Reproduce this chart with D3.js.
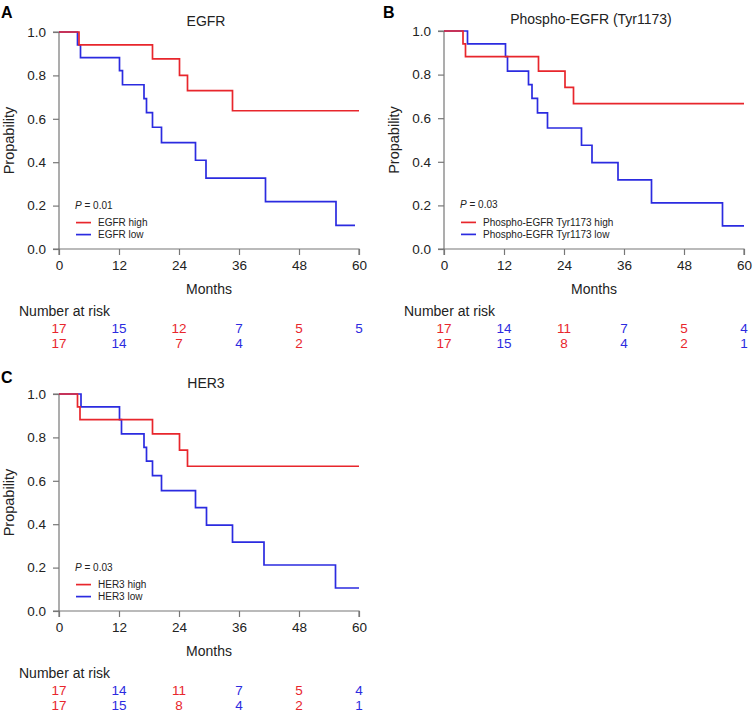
<!DOCTYPE html>
<html><head><meta charset="utf-8">
<script src="https://cdn.jsdelivr.net/npm/d3@7"></script>
<style>
body{margin:0;background:#fff;}
svg text{font-family:"Liberation Sans",Arial,Helvetica,sans-serif;}
</style></head>
<body><svg id="chart" width="753" height="715"></svg>
<script>
// ---- data ----
const xTicks = [0, 12, 24, 36, 48, 60];
const yTicks = [0, 0.2, 0.4, 0.6, 0.8, 1.0];

// Panel A: EGFR
const egfrHighTimes = [0, 4.0, 18.7, 24.1, 25.7, 34.7, 60];
const egfrHighSurv  = [1.0, 0.941, 0.876, 0.80, 0.73, 0.637, 0.637];
const egfrLowTimes  = [0, 3.7, 4.3, 12.1, 12.7, 17.0, 17.5, 18.7, 20.5, 27.3, 29.4, 41.3, 55.4, 59.2];
const egfrLowSurv   = [1.0, 0.941, 0.882, 0.822, 0.757, 0.693, 0.628, 0.561, 0.49, 0.409, 0.327, 0.218, 0.109, 0.109];
const egfrRiskHigh  = ["17", "15", "12", "7", "5", "5"];
const egfrRiskLow   = ["17", "14", "7", "4", "2", ""];

// Panel B: Phospho-EGFR (Tyr1173)
const pegfrHighTimes = [0, 3.8, 4.3, 18.9, 24.2, 25.9, 60];
const pegfrHighSurv  = [1.0, 0.941, 0.882, 0.816, 0.741, 0.667, 0.667];
const pegfrLowTimes  = [0, 4.7, 12.3, 12.7, 16.9, 17.6, 18.7, 20.7, 27.5, 29.6, 34.8, 41.5, 55.7, 60];
const pegfrLowSurv   = [1.0, 0.941, 0.882, 0.816, 0.754, 0.691, 0.624, 0.555, 0.476, 0.396, 0.317, 0.212, 0.106, 0.106];
const pegfrRiskHigh  = ["17", "14", "11", "7", "5", "4"];
const pegfrRiskLow   = ["17", "15", "8", "4", "2", "1"];

// Panel C: HER3
const her3HighTimes = [0, 3.7, 4.2, 18.7, 24.1, 25.7, 60];
const her3HighSurv  = [1.0, 0.941, 0.882, 0.816, 0.741, 0.667, 0.667];
const her3LowTimes  = [0, 4.4, 12.1, 12.5, 17.0, 17.5, 18.7, 20.5, 27.3, 29.5, 34.7, 41.0, 55.3, 60];
const her3LowSurv   = [1.0, 0.941, 0.882, 0.816, 0.754, 0.691, 0.624, 0.555, 0.476, 0.396, 0.317, 0.212, 0.106, 0.106];
const her3RiskHigh  = ["17", "14", "11", "7", "5", "4"];
const her3RiskLow   = ["17", "15", "8", "4", "2", "1"];

const RED = "#e8262c", BLUE = "#2b2be0", AXIS = "#777";

const panels = [
  {letter:"A", title:"EGFR", p:"0.01", hi:"EGFR high", lo:"EGFR low",
   hiT:egfrHighTimes, hiS:egfrHighSurv, loT:egfrLowTimes, loS:egfrLowSurv,
   rHi:egfrRiskHigh, rLo:egfrRiskLow, x0:59, x1:359, yTop:32, yBot:249, letterX:1, letterY:18, titleY:26, ylabX:14},
  {letter:"B", title:"Phospho-EGFR (Tyr1173)", p:"0.03", hi:"Phospho-EGFR Tyr1173 high", lo:"Phospho-EGFR Tyr1173 low",
   hiT:pegfrHighTimes, hiS:pegfrHighSurv, loT:pegfrLowTimes, loS:pegfrLowSurv,
   rHi:pegfrRiskHigh, rLo:pegfrRiskLow, x0:444, x1:744, yTop:31, yBot:249, letterX:383, letterY:18, titleY:24, ylabX:399},
  {letter:"C", title:"HER3", p:"0.03", hi:"HER3 high", lo:"HER3 low",
   hiT:her3HighTimes, hiS:her3HighSurv, loT:her3LowTimes, loS:her3LowSurv,
   rHi:her3RiskHigh, rLo:her3RiskLow, x0:59, x1:359, yTop:394, yBot:611, letterX:1, letterY:383, titleY:388, ylabX:14}
];

const svg = d3.select("#chart");

panels.forEach(P => {
  const g = svg.append("g");
  const x = d3.scaleLinear().domain([0, 60]).range([P.x0, P.x1]);
  const y = d3.scaleLinear().domain([0, 1]).range([P.yBot, P.yTop]);

  g.append("text").attr("x", P.letterX).attr("y", P.letterY)
    .attr("font-size", 16).attr("font-weight", "bold").text(P.letter);
  g.append("text").attr("x", (P.x0 + P.x1) / 2 - 3).attr("y", P.titleY)
    .attr("text-anchor", "middle").attr("font-size", 14).attr("fill", "#222").text(P.title);

  // axes
  const yAxis = d3.axisLeft(y).tickValues(yTicks).tickFormat(d3.format(".1f")).tickSize(6).tickPadding(7);
  const ya = g.append("g").attr("transform", `translate(${P.x0},0)`).call(yAxis);
  const xAxis = d3.axisBottom(x).tickValues(xTicks).tickSize(6).tickPadding(5);
  const xa = g.append("g").attr("transform", `translate(0,${P.yBot})`).call(xAxis);
  [ya, xa].forEach(a => {
    a.select(".domain").attr("stroke", AXIS).attr("stroke-width", 1.2);
    a.selectAll(".tick line").attr("stroke", AXIS).attr("stroke-width", 1.2);
    a.selectAll(".tick text").attr("font-size", 13.5).attr("fill", "#222")
      .attr("font-family", "\"Liberation Sans\",Arial,sans-serif");
  });
  ya.select(".domain").attr("d", `M-6,${P.yBot}H0V${P.yTop}H-6`);
  xa.select(".domain").attr("d", `M${P.x0},6V0H${P.x1}V6`);

  g.append("text").attr("transform", `translate(${P.ylabX},${(P.yTop + P.yBot) / 2}) rotate(-90)`)
    .attr("text-anchor", "middle").attr("font-size", 14.5).attr("fill", "#222").text("Propability");
  g.append("text").attr("x", (P.x0 + P.x1) / 2).attr("y", P.yBot + 45)
    .attr("text-anchor", "middle").attr("font-size", 14).attr("fill", "#222").text("Months");

  // curves
  const line = d3.line().x(d => x(d[0])).y(d => y(d[1])).curve(d3.curveStepAfter);
  const series = [
    {t:P.hiT, s:P.hiS, c:RED},
    {t:P.loT, s:P.loS, c:BLUE}
  ];
  series.slice().reverse().forEach(S => {
    g.append("path").datum(S.t.map((t, i) => [t, S.s[i]]))
      .attr("fill", "none").attr("stroke", S.c).attr("stroke-width", 1.7).attr("d", line);
  });

  // p-value & legend
  const lx = P.x0 + 16, ly = y(0.2) + 3;
  const pt = g.append("text").attr("x", lx).attr("y", ly).attr("font-size", 10).attr("fill", "#222");
  pt.append("tspan").attr("font-style", "italic").text("P");
  pt.append("tspan").text(" = " + P.p);
  [[P.hi, RED], [P.lo, BLUE]].forEach((L, i) => {
    const yy = y(0.2) + 17 + i * 12;
    g.append("line").attr("x1", lx + 1).attr("x2", lx + 16).attr("y1", yy).attr("y2", yy)
      .attr("stroke", L[1]).attr("stroke-width", 1.7);
    g.append("text").attr("x", lx + 23).attr("y", yy + 3.5).attr("font-size", 10).attr("fill", "#222").text(L[0]);
  });

  // number at risk
  g.append("text").attr("x", P.x0 - 40).attr("y", P.yBot + 67)
    .attr("font-size", 14).attr("fill", "#222").text("Number at risk");
  [P.rHi, P.rLo].forEach((row, r) => {
    row.forEach((v, i) => {
      g.append("text").attr("x", x(xTicks[i])).attr("y", P.yBot + 84 + r * 15)
        .attr("text-anchor", "middle").attr("font-size", 13.5)
        .attr("fill", i % 2 === 0 ? RED : BLUE).text(v);
    });
  });
});
</script></body></html>
